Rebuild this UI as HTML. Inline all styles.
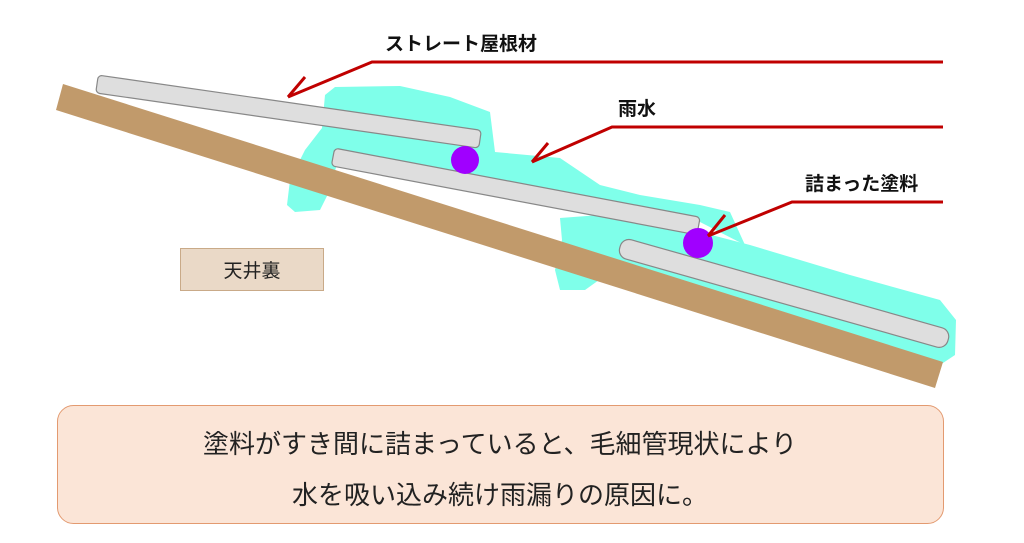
<!DOCTYPE html>
<html><head><meta charset="utf-8"><style>
html,body{margin:0;padding:0;background:#fff;}
body{width:1024px;height:543px;overflow:hidden;position:relative;font-family:"Liberation Sans","Noto Sans CJK JP",sans-serif;}
.lbl{position:absolute;font-weight:bold;font-size:19px;color:#111;white-space:nowrap;}
</style></head><body>
<svg width="1024" height="543" style="position:absolute;left:0;top:0">
<g fill="#7fffea">
<path d="M287,205 L290,180 L305,150 L322,128 L325,95 L335,87 L400,86 L450,97 L490,112 L495,152 L560,158 L600,185 L640,195 L700,205 L730,212 L745,245 L700,222 L340,152 L330,190 L320,210 L295,212 Z"/>
<path d="M560,218 L600,215 L700,232 L750,245 L850,275 L940,300 L956,320 L955,355 L940,365 L620,265 L585,290 L560,290 L555,270 L562,240 Z"/>
</g>
<polygon points="63,84 943,362 935,388 56,110" fill="#c19a6b"/>
<g fill="#dedede" stroke="#888" stroke-width="1.2">
<rect x="0" y="-9" width="387" height="18" rx="4" transform="translate(97,84) rotate(8.2)"/>
<rect x="0" y="-9" width="372" height="18" rx="4" transform="translate(333,157) rotate(10.7)"/>
<rect x="0" y="-10" width="341" height="20" rx="9" transform="translate(620,247) rotate(15.8)"/>
</g>
<circle cx="465" cy="160" r="14" fill="#a000ff"/>
<circle cx="698" cy="243" r="15" fill="#a000ff"/>
<g fill="none" stroke="#c00000" stroke-width="3">
<polyline points="943,62 372,62 288,97"/><line x1="288" y1="97" x2="305" y2="77"/>
<polyline points="943,127 612,127 532,162"/><line x1="532" y1="162" x2="548" y2="143"/>
<polyline points="943,202 792,202 708,236"/><line x1="708" y1="236" x2="725" y2="215"/>
</g>
<rect x="180.5" y="248.5" width="143" height="42" fill="#ead9c7" stroke="#c9aa88"/>
<text x="252" y="277" font-size="19" text-anchor="middle" fill="#222" font-family="Liberation Sans, Noto Sans CJK JP, sans-serif">天井裏</text>
<rect x="57.5" y="405.5" width="886" height="118" rx="16" fill="#fbe5d7" stroke="#e39a70"/>
<text x="500" y="453" font-size="26" text-anchor="middle" fill="#222" font-family="Liberation Sans, Noto Sans CJK JP, sans-serif">塗料がすき間に詰まっていると、毛細管現状により</text>
<text x="500" y="504" font-size="26" text-anchor="middle" fill="#222" font-family="Liberation Sans, Noto Sans CJK JP, sans-serif">水を吸い込み続け雨漏りの原因に。</text>
</svg>
<div class="lbl" style="left:385px;top:29px">ストレート屋根材</div>
<div class="lbl" style="left:618px;top:94px">雨水</div>
<div class="lbl" style="left:805px;top:169px">詰まった塗料</div>
</body></html>
